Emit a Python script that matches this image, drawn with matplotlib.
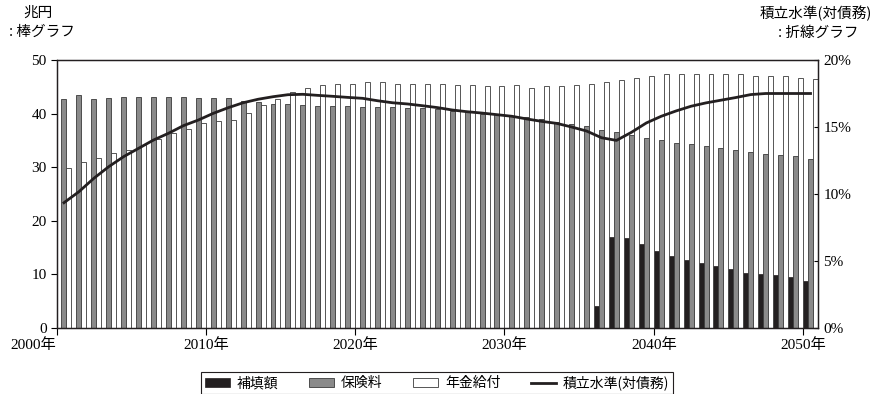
import numpy as np
import matplotlib
matplotlib.use('Agg')
import matplotlib.pyplot as plt
from matplotlib.ticker import FuncFormatter

plt.rcParams['font.family'] = ['Liberation Serif', 'Noto Sans CJK JP']
jp = 'Noto Sans CJK JP'

years = list(range(2000, 2051))

# 補填額 (兆円)
hoten = [0] * 36 + [4.1, 16.9, 16.7, 15.7, 14.3, 13.5, 12.6, 12.2, 11.6, 11.1,
                    10.3, 10.1, 9.9, 9.5, 8.8]

# 保険料 (兆円)
hokenryo = [42.7, 43.4, 42.7, 42.9, 43.1, 43.1, 43.1, 43.1, 43.1, 42.9,
            42.9, 42.9, 42.4, 42.2, 41.8, 41.8, 41.6, 41.4, 41.4, 41.4,
            41.2, 41.2, 41.2, 41.0, 41.0, 40.9, 40.5, 40.4, 39.9, 39.9,
            39.6, 39.4, 38.9, 38.4, 38.1, 37.6, 36.9, 36.5, 36.1, 35.4,
            35.0, 34.6, 34.3, 33.9, 33.5, 33.3, 32.8, 32.4, 32.2, 32.0,
            31.5]

# 年金給付 (兆円)
nenkin = [29.9, 30.9, 31.8, 32.6, 33.3, 34.2, 35.2, 36.3, 37.1, 38.2,
          38.6, 38.8, 40.1, 41.6, 42.8, 44.0, 44.8, 45.3, 45.6, 45.6,
          45.9, 45.9, 45.6, 45.6, 45.6, 45.5, 45.3, 45.3, 45.1, 45.1,
          45.3, 44.8, 45.1, 45.1, 45.3, 45.5, 45.9, 46.3, 46.7, 47.1,
          47.3, 47.3, 47.3, 47.3, 47.3, 47.3, 47.1, 47.0, 47.0, 46.7,
          46.5]

# 積立水準(対債務) (%)
level = [9.35, 10.17, 11.17, 12.04, 12.79, 13.41, 14.03, 14.53, 15.1, 15.52,
         16.02, 16.44, 16.81, 17.07, 17.26, 17.41, 17.44, 17.36, 17.29, 17.21,
         17.14, 16.96, 16.81, 16.72, 16.59, 16.45, 16.27, 16.14, 16.04, 15.92,
         15.8, 15.6, 15.42, 15.27, 15.0, 14.7, 14.2, 14.0, 14.6, 15.3,
         15.8, 16.2, 16.55, 16.8, 17.0, 17.2, 17.42, 17.5, 17.5, 17.5,
         17.5]

tick_years = [2000, 2010, 2020, 2030, 2040, 2050]

fig = plt.figure(figsize=(8.74, 3.94), dpi=100)
ax = fig.add_axes([56.5 / 874, 1 - 328 / 394, (818 - 56.5) / 874, 268 / 394])

x = np.arange(len(years))
w = 1 / 3
hoten = np.array(hoten)
pos = hoten > 0
ax.bar(x[pos] + w / 2, hoten[pos], w, color='#231f20', edgecolor='#231f20',
       linewidth=0.5, label='補填額')
ax.bar(x + 1.5 * w, hokenryo, w, color='#8a8a8a', edgecolor='#3a3a3a',
       linewidth=0.6, label='保険料')
ax.bar(x + 2.5 * w, nenkin, w, color='white', edgecolor='#3a3a3a',
       linewidth=0.6, label='年金給付')

ax.set_xlim(0, len(years))
ax.set_ylim(0, 50)
ax.set_yticks(np.arange(0, 51, 10))
ax.set_xticks([y - years[0] for y in tick_years])
ax.set_xticklabels([f'{y}年' for y in tick_years])
ax.tick_params(axis='x', direction='out', length=5, labelsize=11, pad=2)
ax.tick_params(axis='y', direction='out', length=4, labelsize=11, pad=3)
ax.get_xticklabels()[0].set_horizontalalignment('right')

ax2 = ax.twinx()
ax2.plot(x + 0.5, level, color='#231f20', linewidth=2, label='積立水準(対債務)')
ax2.set_ylim(0, 20)
ax2.set_yticks(np.arange(0, 21, 5))
ax2.yaxis.set_major_formatter(FuncFormatter(lambda v, p: f'{v:.0f}%'))
ax2.tick_params(axis='y', direction='in', length=3, labelsize=11, pad=4)

for a in (ax, ax2):
    for s in a.spines.values():
        s.set_linewidth(0.9)
        s.set_color('#231f20')

fig.text(38 / 874, 1 - 13 / 394, '兆円', ha='center', va='center',
         family=jp, fontsize=10.5)
fig.text(42 / 874, 1 - 32 / 394, ': 棒グラフ', ha='center', va='center',
         family=jp, fontsize=10.5)
fig.text(816 / 874, 1 - 13 / 394, '積立水準(対債務)', ha='center', va='center',
         family=jp, fontsize=10.5)
fig.text(818 / 874, 1 - 33 / 394, ': 折線グラフ', ha='center', va='center',
         family=jp, fontsize=10.5)

h1, l1 = ax.get_legend_handles_labels()
h2, l2 = ax2.get_legend_handles_labels()
leg = fig.legend(h1 + h2, l1 + l2, loc='upper center',
                 bbox_to_anchor=(0.5, 1 - 365 / 394), ncol=4, frameon=True,
                 fancybox=False, edgecolor='#231f20', framealpha=1,
                 handlelength=1.8, handleheight=0.6, columnspacing=2.2,
                 handletextpad=0.5, borderpad=0.25,
                 prop={'family': jp, 'size': 10})
leg.get_frame().set_linewidth(0.8)

fig.savefig('out.png', dpi=100)
